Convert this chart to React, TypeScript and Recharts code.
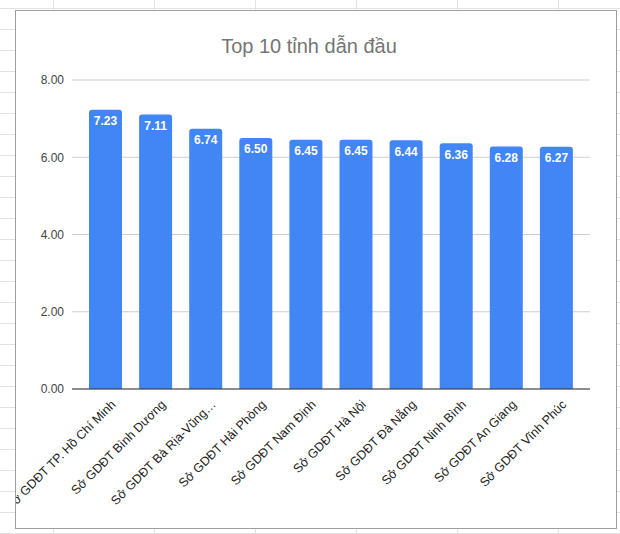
import React from "react"
import { BarChart, Bar, XAxis, YAxis, CartesianGrid, LabelList } from "recharts"

const XANH = "#4285F4"
const FONT = "Arial, 'Liberation Sans', sans-serif"

// tên hiển thị trên trục (Google tự cắt nhãn dài)
const tinh = [
  "Sở GDĐT TP. Hồ Chí Minh",
  "Sở GDĐT Bình Dương",
  "Sở GDĐT Bà Rịa-Vũng…",
  "Sở GDĐT Hải Phòng",
  "Sở GDĐT Nam Định",
  "Sở GDĐT Hà Nội",
  "Sở GDĐT Đà Nẵng",
  "Sở GDĐT Ninh Bình",
  "Sở GDĐT An Giang",
  "Sở GDĐT Vĩnh Phúc",
]
const diem = [7.23, 7.11, 6.74, 6.5, 6.45, 6.45, 6.44, 6.36, 6.28, 6.27]
const mocY = [0, 2, 4, 6, 8]

const data = tinh.map((t, i) => ({ tinh: t, diem: diem[i] }))

const NEN = {
  position: "fixed" as const,
  left: 0,
  top: 0,
  width: 620,
  height: 534,
  background: "#fff",
  backgroundImage:
    "linear-gradient(to bottom, #e2e2e2 1px, transparent 1px), linear-gradient(to right, #e2e2e2 1px, transparent 1px)",
  backgroundSize: "100% 21px, 101px 100%",
  backgroundPosition: "0 8px, 53px 0",
  overflow: "hidden",
}

export default function App() {
  return (
    <div style={NEN}>
      <div
        style={{
          position: "absolute",
          left: 15,
          top: 10,
          width: 602,
          height: 519,
          boxSizing: "border-box",
          border: "1px solid #9e9e9e",
          background: "#fff",
          fontFamily: FONT,
        }}
      >
        <div
          style={{
            position: "absolute",
            left: 0,
            top: 25,
            width: 586,
            textAlign: "center",
            fontSize: 20,
            lineHeight: "20px",
            color: "#757575",
          }}
        >
          Top 10 tỉnh dẫn đầu
        </div>
        <BarChart
          width={600}
          height={517}
          data={data}
          margin={{ top: 69, right: 26, left: 0, bottom: 0 }}
          style={{ fontFamily: FONT }}
        >
          <CartesianGrid vertical={false} stroke="#cfcfcf" />
          <XAxis
            dataKey="tinh"
            height={139}
            interval={0}
            padding={{ left: 8, right: 9 }}
            tickLine={false}
            tickSize={0}
            tickMargin={10}
            angle={-45}
            textAnchor="end"
            axisLine={{ stroke: "#333" }}
            tick={{ fontSize: 12.5, fill: "#222", dx: 5 }}
          />
          <YAxis
            width={56}
            domain={[0, 8]}
            ticks={mocY}
            tickFormatter={(v) => Number(v).toFixed(2)}
            axisLine={false}
            tickLine={false}
            tickSize={0}
            tickMargin={8}
            tick={{ fontSize: 12, fill: "#444" }}
          />
          <Bar dataKey="diem" fill={XANH} barSize={33} radius={[3, 3, 0, 0]} isAnimationActive={false}>
            <LabelList
              dataKey="diem"
              position="insideTop"
              offset={7}
              formatter={(v: any) => Number(v).toFixed(2)}
              style={{ fontSize: 12, fontWeight: "bold", fill: "#fff" }}
            />
          </Bar>
        </BarChart>
      </div>
    </div>
  )
}
